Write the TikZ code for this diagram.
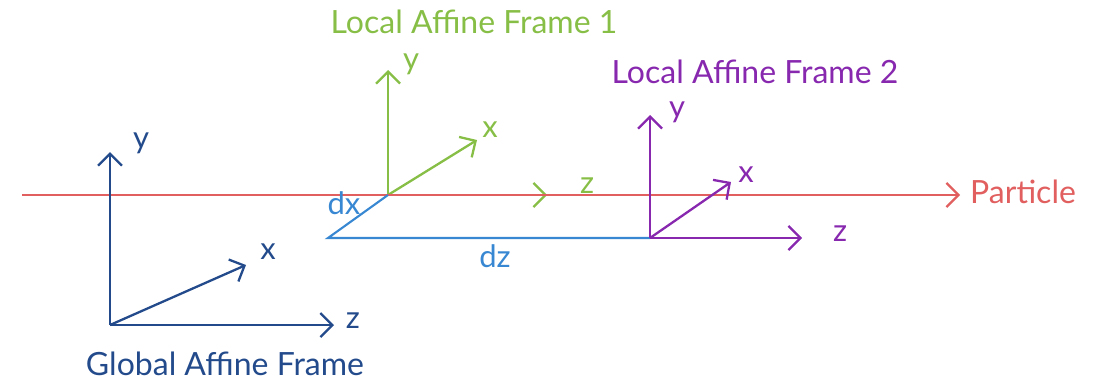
\documentclass[tikz,border=0pt]{standalone}
\usepackage{fontspec}
\setmainfont{Lato}
\usetikzlibrary{arrows.meta}
\definecolor{globalblue}{RGB}{35,75,140}
\definecolor{framegreen}{RGB}{135,190,70}
\definecolor{framepurple}{RGB}{135,40,175}
\definecolor{particlered}{RGB}{225,95,95}
\definecolor{deltablue}{RGB}{55,135,210}

\begin{document}
\begin{tikzpicture}[
  x=1pt, y=-1pt,
  axis/.style={line width=2.3pt, -{Straight Barb[length=12pt, width=24pt, line width=2.3pt]}},
  lbl/.style={font=\fontsize{31}{33}\selectfont, inner sep=0pt},
  title/.style={font=\fontsize{32}{35}\selectfont, inner sep=0pt},
]
\useasboundingbox (0,0) rectangle (1107,383);

% local frame 1 (its z axis lies under the particle path)
\coordinate (f1) at (388,195);
\coordinate (ay) at (388,70);
\coordinate (ax) at (477,140);
\coordinate (az) at (547,195);
\draw[axis, framegreen] (f1) -- (az);
\draw[axis, framegreen] (f1) -- (ay);
\draw[axis, framegreen] (f1) -- (ax);
\node[lbl, framegreen] (aylbl) at (411,64) {y};
\node[lbl, framegreen] (axlbl) at (490,130) {x};
\node[lbl, framegreen] (azlbl) at (587,186) {z};
\node[title, framegreen] (atitle) at (474,22) {Local Affine Frame 1};

% particle path
\coordinate (pstart) at (22,195);
\coordinate (pend) at (960,195);
\draw[axis, particlered, line width=1.6pt] (pstart) -- (pend);
\node[title, particlered, anchor=west] (particle) at (970,192) {Particle};

% global frame
\coordinate (g0) at (110,325);
\coordinate (gy) at (110,152);
\coordinate (gx) at (246,265);
\coordinate (gz) at (334,325);
\draw[axis, globalblue] (g0) -- (gy);
\draw[axis, globalblue] (g0) -- (gx);
\draw[axis, globalblue] (g0) -- (gz);
\node[lbl, globalblue] (gylbl) at (141,143) {y};
\node[lbl, globalblue] (gxlbl) at (268,252) {x};
\node[lbl, globalblue] (gzlbl) at (353,321) {z};
\node[title, globalblue] (gtitle) at (225,364) {Global Affine Frame};

% offsets between the frames
\coordinate (d0) at (328,238);
\coordinate (f2) at (650,238);
\draw[deltablue, line width=2.1pt] (f1) -- (d0) -- (f2);
\node[lbl, deltablue] (dxlbl) at (344,203) {dx};
\node[lbl, deltablue] (dzlbl) at (495,256) {dz};

% local frame 2
\coordinate (by) at (650,115);
\coordinate (bx) at (731,182);
\coordinate (bz) at (802,238);
\draw[axis, framepurple] (f2) -- (by);
\draw[axis, framepurple] (f2) -- (bx);
\draw[axis, framepurple] (f2) -- (bz);
\node[lbl, framepurple] (bylbl) at (677,112) {y};
\node[lbl, framepurple] (bxlbl) at (746,175) {x};
\node[lbl, framepurple] (bzlbl) at (840,234) {z};
\node[title, framepurple] (btitle) at (755,72) {Local Affine Frame 2};
\end{tikzpicture}
\end{document}
